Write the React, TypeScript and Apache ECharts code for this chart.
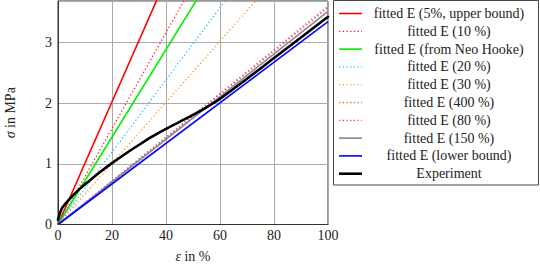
import React, { useEffect, useRef } from "react";
import * as echarts from "echarts";

// Fitted E lines: stress (MPa) at ε = 0 % and ε = 100 % (straight lines, clipped by the plot)
const fitNames = [
  "fitted E (5%, upper bound)",
  "fitted E (10 %)",
  "fitted E (from Neo Hooke)",
  "fitted E (20 %)",
  "fitted E (30 %)",
  "fitted E (400 %)",
  "fitted E (80 %)",
  "fitted E (150 %)",
  "fitted E (lower bound)",
];
const fitStartStress = [0, 0, 0, 0, 0, 0, 0, 0, 0];
const fitEndStress = [10.1, 7.9, 7.2, 5.95, 5.03, 3.6, 3.57, 3.51, 3.34];
const fitColors = ["#ff0000", "#ff2020", "#00ee00", "#33bbff", "#ff9933", "#d2803c", "#ff22aa", "#888888", "#0000ff"];
const fitDotted = [false, true, false, true, true, true, true, false, false];

// Experiment
const expName = "Experiment";
const expStrain = [0, 1.5, 3.9, 7.6, 11.3, 16.2, 20, 25, 30.5, 35, 40, 45, 50, 55, 60, 70, 80, 90, 100];
const expStress = [0.08, 0.27, 0.4, 0.57, 0.71, 0.885, 1.01, 1.165, 1.325, 1.45, 1.575, 1.69, 1.805, 1.93, 2.07, 2.4, 2.74, 3.08, 3.42];

const xTicks = [0, 20, 40, 60, 80, 100];
const yTicks = [0, 1, 2, 3];

const FONT = "'Liberation Serif', 'DejaVu Serif', serif";

export default function App() {
  const ref = useRef<HTMLDivElement>(null);
  useEffect(() => {
    if (!ref.current) return;
    const chart = echarts.init(ref.current, undefined, { renderer: "svg" });

    const fitSeries = fitNames.map((name, i) => ({
      name,
      type: "line",
      data: [
        [xTicks[0], fitStartStress[i]],
        [xTicks[xTicks.length - 1], fitEndStress[i]],
      ],
      showSymbol: false,
      symbol: "none",
      clip: true,
      lineStyle: {
        color: fitColors[i],
        width: fitDotted[i] ? 1.3 : 1.6,
        type: fitDotted[i] ? [1.3, 2.4] : "solid",
      },
      z: 2 + i,
    }));

    const expSeries = {
      name: expName,
      type: "line",
      data: expStrain.map((x, i) => [x, expStress[i]]),
      showSymbol: false,
      symbol: "none",
      smooth: 0.3,
      lineStyle: { color: "#000", width: 2.6, type: "solid", join: "round", cap: "round" },
      z: 20,
    };

    const legendNames = [...fitNames, expName];
    const legendColors = [...fitColors, "#000"];
    const legendDotted = [...fitDotted, false];
    const legendWidths = [...fitNames.map((_, i) => (fitDotted[i] ? 1.3 : 1.6)), 2.6];
    const legendEls: any[] = [
      {
        type: "rect",
        shape: { x: 333.5, y: 0.5, width: 205, height: 184.5 },
        style: { fill: "#fff", stroke: "#444", lineWidth: 1 },
        z: 100,
      },
    ];
    legendNames.forEach((name, i) => {
      const y = 13.5 + i * 17.8;
      legendEls.push({
        type: "line",
        shape: { x1: 339, y1: y, x2: 362, y2: y },
        style: {
          stroke: legendColors[i],
          lineWidth: legendWidths[i],
          lineDash: legendDotted[i] ? [1.3, 2.4] : null,
        },
        z: 101,
      });
      legendEls.push({
        type: "text",
        x: 449,
        y: y,
        style: {
          text: name,
          fill: "#222",
          font: `14px ${FONT}`,
          align: "center",
          verticalAlign: "middle",
        },
        z: 101,
      });
    });

    chart.setOption({
      animation: false,
      grid: {
        left: 58,
        top: 1,
        width: 270,
        height: 223.5,
        show: true,
        borderColor: "#333",
        borderWidth: 1,
        backgroundColor: "transparent",
        containLabel: false,
        outerBoundsMode: "none",
      },
      xAxis: {
        type: "value",
        min: xTicks[0],
        max: xTicks[xTicks.length - 1],
        interval: 20,
        name: "{i|ε} in %",
        nameLocation: "middle",
        nameGap: 25,
        nameTextStyle: {
          fontFamily: FONT,
          fontSize: 14,
          color: "#222",
          rich: { i: { fontStyle: "italic", fontFamily: FONT, fontSize: 14, color: "#222" } },
        },
        axisLine: { show: true, lineStyle: { color: "#333", width: 1 } },
        axisTick: { show: false },
        axisLabel: { fontFamily: FONT, fontSize: 14, color: "#222", margin: 4 },
        splitLine: { show: true, lineStyle: { color: "#aaaaaa", width: 1 } },
      },
      yAxis: {
        type: "value",
        min: 0,
        max: 3.68,
        interval: 1,
        name: "{i|σ} in MPa",
        nameLocation: "middle",
        nameGap: 41,
        nameRotate: 90,
        nameTextStyle: {
          fontFamily: FONT,
          fontSize: 14,
          color: "#222",
          rich: { i: { fontStyle: "italic", fontFamily: FONT, fontSize: 14, color: "#222" } },
        },
        axisLine: { show: true, lineStyle: { color: "#333", width: 1 } },
        axisTick: { show: false },
        axisLabel: {
          fontFamily: FONT,
          fontSize: 14,
          color: "#222",
          margin: 6,
          showMaxLabel: false,
          formatter: (v: number) => (yTicks.includes(v) ? String(v) : ""),
        },
        splitLine: { show: true, lineStyle: { color: "#aaaaaa", width: 1 } },
      },
      series: [...fitSeries, expSeries],
      graphic: legendEls,
    });
    return () => chart.dispose();
  }, []);
  return (
    <div
      ref={ref}
      style={{ position: "fixed", left: 0, top: 0, width: 540, height: 266, background: "#fff" }}
    />
  );
}
